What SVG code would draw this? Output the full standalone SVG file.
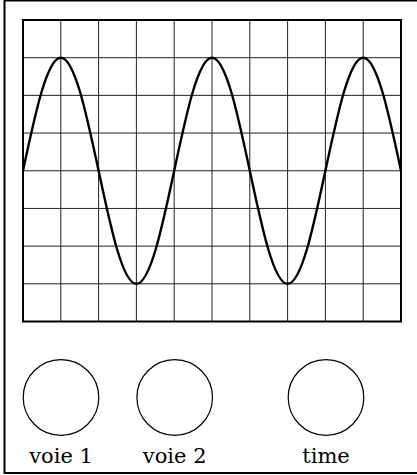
<svg xmlns="http://www.w3.org/2000/svg" width="417" height="475" viewBox="0 0 417 475">
<style>
.frame{fill:none;stroke:#000;stroke-width:2}
.grid{fill:none;stroke:#222;stroke-width:1}
.wave{fill:none;stroke:#000;stroke-width:2.4}
.knob{fill:none;stroke:#000;stroke-width:1.2}
.lbl{font-family:"DejaVu Serif","Liberation Serif",serif;font-size:21px;fill:#000;text-anchor:middle}
</style>
<rect id="case" class="frame" x="4.5" y="0.5" width="420" height="472.5"/>
<g id="screen">
<g class="grid">
<path d="M60.8 20V321.5M98.6 20V321.5M136.4 20V321.5M174.2 20V321.5M212 20V321.5M249.8 20V321.5M287.6 20V321.5M325.4 20V321.5M363.2 20V321.5"/>
<path d="M23 57.69H401M23 95.38H401M23 133.06H401M23 170.75H401M23 208.44H401M23 246.13H401M23 283.81H401"/>
</g>
<rect class="frame" x="23" y="20" width="378" height="301.5"/>
<path class="wave" d="M23 170.75
c12.33,-57.92 24.12,-113.06 37.8,-113.06 c13.68,0 25.47,55.14 37.8,113.06
c12.33,57.92 24.12,113.06 37.8,113.06 c13.68,0 25.47,-55.14 37.8,-113.06
c12.33,-57.92 24.12,-113.06 37.8,-113.06 c13.68,0 25.47,55.14 37.8,113.06
c12.33,57.92 24.12,113.06 37.8,113.06 c13.68,0 25.47,-55.14 37.8,-113.06
c12.33,-57.92 24.12,-113.06 37.8,-113.06 c13.68,0 25.47,55.14 37.8,113.06"/>
</g>
<g id="knob1"><circle class="knob" cx="61" cy="397.5" r="37.8"/><text class="lbl" x="61" y="463">voie 1</text></g>
<g id="knob2"><circle class="knob" cx="174.7" cy="397.5" r="37.8"/><text class="lbl" x="174.7" y="463">voie 2</text></g>
<g id="knob3"><circle class="knob" cx="326" cy="397.5" r="37.8"/><text class="lbl" x="326" y="463">time</text></g>
</svg>
